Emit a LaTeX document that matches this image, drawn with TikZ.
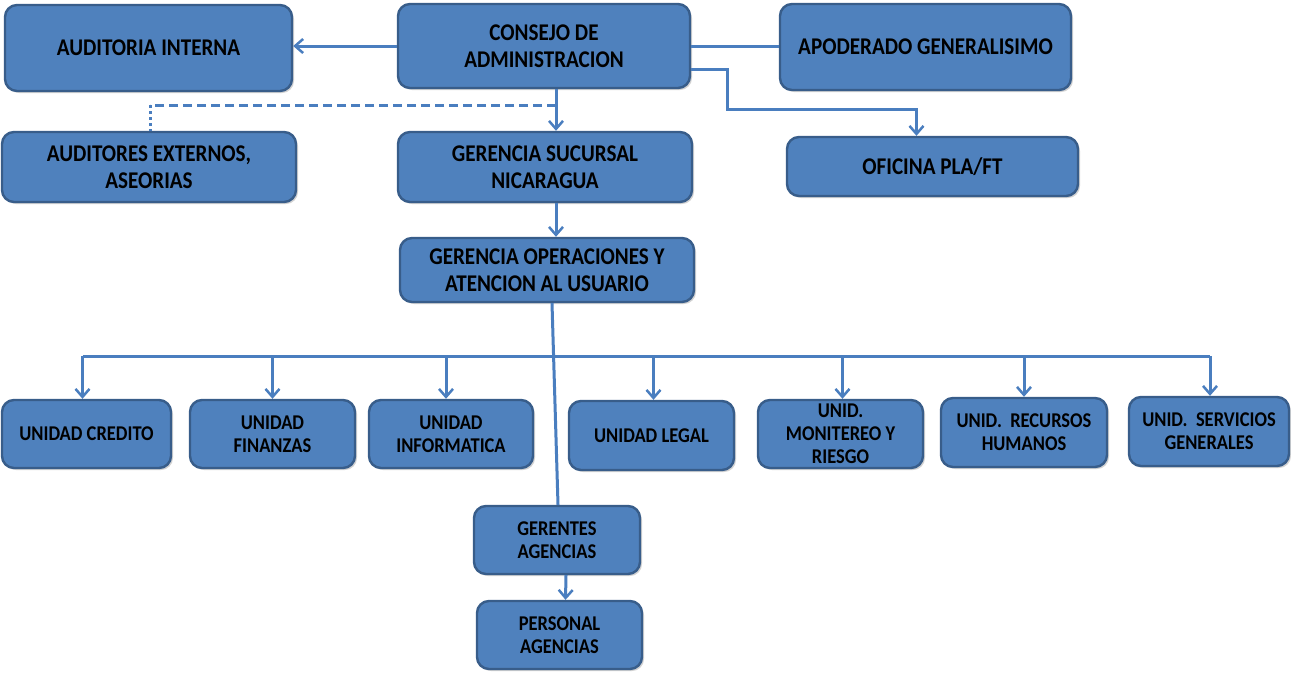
\documentclass[tikz,border=0pt]{standalone}
\usepackage{fontspec}
\setmainfont{Carlito}[FakeStretch=0.88]
\usetikzlibrary{arrows.meta,shadows}
\definecolor{boxfill}{HTML}{4F81BD}
\definecolor{boxedge}{HTML}{385D8A}
\definecolor{linec}{HTML}{4A7EBF}
\tikzset{
  box/.style={draw=boxedge, line width=2.4pt, fill=boxfill, rounded corners=12pt,
    align=center, font=\fontsize{24}{27}\selectfont\bfseries, text=black, inner sep=2pt,
    drop shadow={shadow xshift=2pt, shadow yshift=-2pt, opacity=0.35}},
  sbox/.style={box, font=\fontsize{21}{23}\selectfont\bfseries},
  ln/.style={draw=linec, line width=3pt},
  arr/.style={ln, -{Straight Barb[length=8pt,width=14pt,line width=2.5pt]}},
}
\begin{document}
\begin{tikzpicture}[x=1pt,y=-1pt]
\useasboundingbox[fill=white] (0,0) rectangle (1291,673);
% top row
\node[box, minimum width=287pt, minimum height=86pt] (ai) at (148.5,48) {AUDITORIA INTERNA};
\node[box, minimum width=292pt, minimum height=84pt] (ca) at (544,46) {CONSEJO DE\\ADMINISTRACION};
\node[box, minimum width=291pt, minimum height=86pt] (ap) at (925.5,47) {APODERADO GENERALISIMO};
% second row
\node[box, minimum width=294pt, minimum height=70pt] (ae) at (149,167) {AUDITORES EXTERNOS,\\ASEORIAS};
\node[box, minimum width=294pt, minimum height=70pt] (gs) at (545,167) {GERENCIA SUCURSAL\\NICARAGUA};
\node[box, minimum width=291pt, minimum height=59pt] (of) at (932.5,166.5) {OFICINA PLA/FT};
% third
\node[box, minimum width=294pt, minimum height=64pt] (go) at (547,270) {GERENCIA OPERACIONES Y\\ATENCION AL USUARIO};
% units
\node[sbox, minimum width=169pt, minimum height=68pt] (u1) at (86.5,434) {UNIDAD CREDITO};
\node[sbox, minimum width=165pt, minimum height=68pt] (u2) at (272.5,434) {UNIDAD\\FINANZAS};
\node[sbox, minimum width=164pt, minimum height=68pt] (u3) at (451,434) {UNIDAD\\INFORMATICA};
\node[sbox, minimum width=165pt, minimum height=69pt] (u4) at (651.5,435.5) {UNIDAD LEGAL};
\node[sbox, minimum width=165pt, minimum height=68pt] (u5) at (840.5,434) {UNID.\\MONITEREO Y\\RIESGO};
\node[sbox, minimum width=166pt, minimum height=69pt] (u6) at (1024,432.5) {UNID.\ \ RECURSOS\\HUMANOS};
\node[sbox, minimum width=160pt, minimum height=69pt] (u7) at (1209,431.5) {UNID.\ \ SERVICIOS\\GENERALES};
% agencies
\node[sbox, minimum width=166pt, minimum height=68pt] (ga) at (557,540) {GERENTES\\AGENCIAS};
\node[sbox, minimum width=165pt, minimum height=68pt] (pa) at (559.5,635) {PERSONAL\\AGENCIAS};
% coordinates
\coordinate (k) at (727,109);
\coordinate (d1) at (556,105);
\coordinate (d2) at (150,105);
\coordinate (bus) at (0,356);
% connectors
\draw[arr] (ca.west) -- (ca.west -| ai.east);
\draw[ln] (ca.east) -- (ca.east -| ap.west);
\draw[arr] ([yshift=-23pt]ca.east) -| (k) -| ([xshift=-16pt]of.north);
\draw[arr] ([xshift=12pt]ca.south) -- ([xshift=11pt]gs.north);
\draw[ln, dash pattern=on 9pt off 5pt] (d1) -- (d2);
\draw[ln, dash pattern=on 3pt off 3pt] (d2) -- (d2 |- ae.north);
\draw[arr] ([xshift=11pt]gs.south) -- ([xshift=9pt]go.north);
\draw[ln] ([xshift=5pt]go.south) -- ([xshift=1pt]ga.north);
\draw[ln] ([xshift=-4pt]u1.north |- bus) -- ([xshift=1pt]u7.north |- bus);
\draw[arr] ([xshift=-4pt]u1.north |- bus) -- ([xshift=-4pt]u1.north);
\draw[arr] (u2.north |- bus) -- (u2.north);
\draw[arr] ([xshift=-5pt]u3.north |- bus) -- ([xshift=-5pt]u3.north);
\draw[arr] ([xshift=2pt]u4.north |- bus) -- ([xshift=2pt]u4.north);
\draw[arr] ([xshift=2pt]u5.north |- bus) -- ([xshift=2pt]u5.north);
\draw[arr] (u6.north |- bus) -- (u6.north);
\draw[arr] ([xshift=1pt]u7.north |- bus) -- ([xshift=1pt]u7.north);
\draw[arr] ([xshift=9pt]ga.south) -- ([xshift=6pt]pa.north);
\end{tikzpicture}
\end{document}
